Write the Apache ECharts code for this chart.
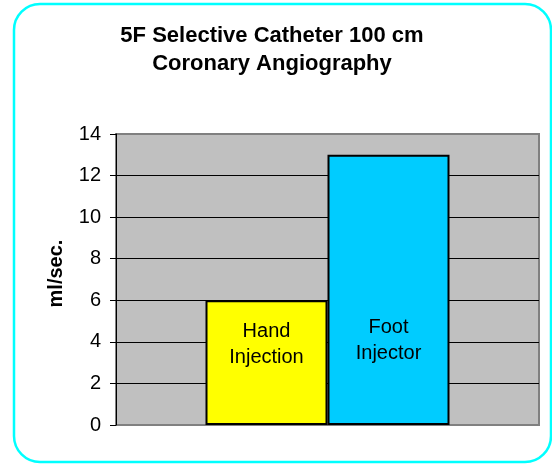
<!DOCTYPE html>
<html lang="en">
<head>
    <meta charset="UTF-8">
    <title>5F Selective Catheter</title>
    <script src="https://cdn.jsdelivr.net/npm/echarts@6/dist/echarts.min.js"></script>
    <style>
        html, body { margin: 0; padding: 0; background: #fff; }
    </style>
</head>
<body>
<div id="main" style="width: 552px;height:465px;"></div>
<script type="text/javascript">
    // data
    var titleLines = ['5F Selective Catheter 100 cm', 'Coronary Angiography'];
    var categories = [''];
    var seriesNames = ['Hand\nInjection', 'Foot\nInjector'];
    var seriesValues = [6, 13];
    var seriesColors = ['#FFFF00', '#00CCFF'];
    var labelDistance = [55, 59];
    var yTicks = { min: 0, max: 14, interval: 2 };
    var yName = 'ml/sec.';

    var myChart = echarts.init(document.getElementById('main'));

    var series = seriesNames.map(function (name, i) {
        return {
            name: name,
            type: 'bar',
            barWidth: 122,
            barGap: '0%',
            data: [seriesValues[i]],
            itemStyle: {
                color: seriesColors[i],
                borderColor: '#000',
                borderWidth: 2
            },
            label: {
                show: true,
                position: 'insideBottom',
                distance: labelDistance[i],
                formatter: name,
                color: '#000',
                fontSize: 20,
                lineHeight: 26,
                fontFamily: 'Liberation Sans, Arial, sans-serif'
            },
            z: 3
        };
    });

    var option = {
        animation: false,
        title: {
            text: titleLines.join('\n'),
            left: 267,
            textAlign: 'center',
            top: 17,
            textStyle: {
                fontFamily: 'Liberation Sans, Arial, sans-serif',
                fontSize: 22,
                fontWeight: 'bold',
                lineHeight: 28,
                color: '#000'
            }
        },
        graphic: [{
            type: 'rect',
            shape: { x: 14, y: 4, width: 537, height: 458, r: 26 },
            style: { fill: 'none', stroke: '#00FFFF', lineWidth: 2.5 },
            z: 10
        }],
        grid: {
            left: 116,
            right: 13,
            top: 134,
            bottom: 40,
            show: true,
            backgroundColor: '#C0C0C0',
            borderColor: '#808080',
            borderWidth: 2
        },
        xAxis: {
            type: 'category',
            data: categories,
            axisLine: { show: false },
            axisTick: { show: false },
            axisLabel: { show: false }
        },
        yAxis: {
            type: 'value',
            min: yTicks.min,
            max: yTicks.max,
            interval: yTicks.interval,
            name: yName,
            nameLocation: 'middle',
            nameGap: 50,
            nameTextStyle: {
                fontFamily: 'Liberation Sans, Arial, sans-serif',
                fontSize: 20,
                fontWeight: 'bold',
                color: '#000',
                padding: [0, 0, 0, 12]
            },
            axisLine: { show: true, lineStyle: { color: '#000', width: 1 } },
            axisTick: { show: true, inside: false, length: 6, lineStyle: { color: '#000' } },
            axisLabel: {
                margin: 15,
                fontSize: 20,
                color: '#000',
                fontFamily: 'Liberation Sans, Arial, sans-serif'
            },
            splitLine: {
                show: true,
                showMinLine: false,
                showMaxLine: false,
                lineStyle: { color: '#000', width: 1 }
            }
        },
        series: series
    };
    myChart.setOption(option);
</script>
</body>
</html>
